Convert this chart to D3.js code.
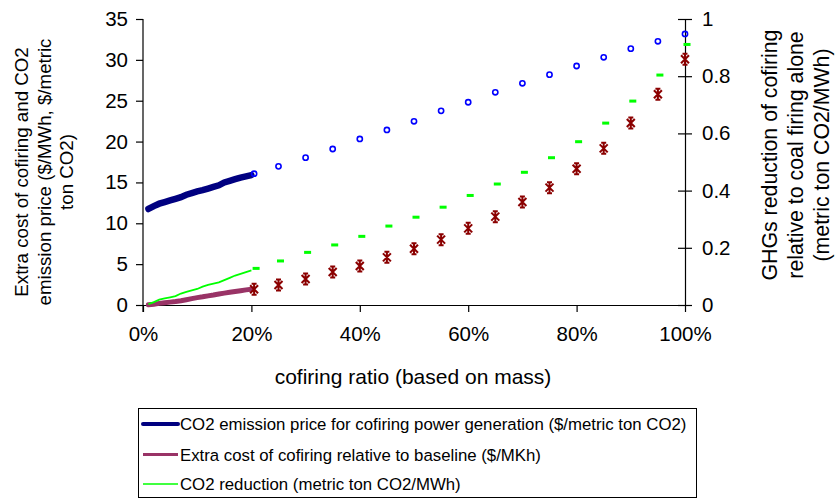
<!DOCTYPE html>
<html>
<head>
<meta charset="utf-8">
<script src="https://cdn.jsdelivr.net/npm/d3@7"></script>
<style>
  html, body { margin: 0; padding: 0; background: #fff; }
  svg { display: block; font-family: "Liberation Sans", Arial, sans-serif; }
</style>
</head>
<body>
<svg id="chart" width="835" height="500"></svg>
<script>
// Cofiring ratios for the continuous curves (1% .. 20%)
const lineRatios = [0.01,0.02,0.03,0.04,0.05,0.06,0.07,0.08,0.09,0.10,
                    0.11,0.12,0.13,0.14,0.15,0.16,0.17,0.18,0.19,0.20];
// CO2 emission price ($/metric ton CO2), left axis
const co2PriceLine = [11.75,12.1,12.4,12.6,12.8,13.0,13.2,13.5,13.7,13.9,
                      14.05,14.25,14.45,14.65,15.0,15.2,15.4,15.6,15.75,15.9];
// Extra cost of cofiring ($/MWh), left axis
const extraCostLine = [0.02,0.1,0.2,0.27,0.35,0.43,0.53,0.65,0.78,0.9,
                       1.0,1.12,1.22,1.35,1.45,1.55,1.65,1.75,1.85,1.92];
// CO2 reduction (metric ton CO2/MWh), right axis
const co2ReductionLine = [0.003,0.01,0.019,0.023,0.027,0.031,0.040,0.046,0.051,0.056,
                          0.064,0.070,0.075,0.079,0.087,0.095,0.103,0.109,0.115,0.121];

// Cofiring ratios for the point markers
const markerRatios = [0.205,0.25,0.30,0.35,0.40,0.45,0.50,0.55,0.60,0.65,
                      0.70,0.75,0.80,0.85,0.90,0.95,1.00];
const co2PricePts = [16.07,16.97,18.03,19.09,20.32,21.42,22.48,23.76,24.81,26.03,
                     27.13,28.19,29.25,30.31,31.37,32.27,33.17];
const extraCostPts = [1.92,2.45,3.18,4.04,4.77,5.83,6.89,8.0,9.38,10.81,
                      12.61,14.36,16.68,19.17,22.27,25.79,30.07];
const co2ReductionPts = [0.128,0.154,0.184,0.210,0.240,0.276,0.307,0.342,0.383,0.423,
                         0.464,0.515,0.571,0.636,0.713,0.804,0.911];

// Axis ticks
const xTicks = [0,0.2,0.4,0.6,0.8,1.0];
const leftTicks = [0,5,10,15,20,25,30,35];
const rightTicks = [0,0.2,0.4,0.6,0.8,1.0];

// Legend entries
const legendLabels = [
  "CO2 emission price for cofiring power generation ($/metric ton CO2)",
  "Extra cost of cofiring relative to baseline ($/MKh)",
  "CO2 reduction (metric ton CO2/MWh)"
];

const svg = d3.select("#chart");
const plot = { left: 143, right: 685, top: 19, bottom: 305 };

const x = d3.scaleLinear().domain([0, 1]).range([plot.left, plot.right]);
const yL = d3.scaleLinear().domain([0, 35]).range([plot.bottom, plot.top]);
const yR = d3.scaleLinear().domain([0, 1]).range([plot.bottom, plot.top]);

// ---- axes ----
const tickFont = "20.5px";

const gx = svg.append("g")
  .attr("transform", `translate(0,${plot.bottom})`)
  .call(d3.axisBottom(x).tickValues(xTicks).tickFormat(d3.format(".0%"))
        .tickSize(7).tickSizeOuter(0).tickPadding(14));

const gl = svg.append("g")
  .attr("transform", `translate(${plot.left},0)`)
  .call(d3.axisLeft(yL).tickValues(leftTicks).tickSize(7).tickSizeOuter(0).tickPadding(8));

const gr = svg.append("g")
  .attr("transform", `translate(${plot.right},0)`)
  .call(d3.axisRight(yR).tickValues(rightTicks)
        .tickFormat(d => (d === 0 || d === 1) ? String(d) : d.toFixed(1))
        .tickSize(7).tickSizeOuter(0).tickPadding(10));
// right axis ticks cross the axis line
gr.selectAll(".tick line").attr("x1", -7);

[gx, gl, gr].forEach(g => {
  g.selectAll("text").attr("font-size", tickFont).attr("fill", "#000")
    .attr("font-family", "Liberation Sans, Arial, sans-serif");
  g.selectAll("line, path").attr("stroke", "#000").attr("stroke-width", 1.2);
});
// left axis line reaches down to the bottom tick level
gl.select(".domain").attr("d", `M0,${plot.top}V${plot.bottom + 7}`);

// ---- continuous curves ----
const lineL = d3.line().x(d => x(d[0])).y(d => yL(d[1]));
const lineR = d3.line().x(d => x(d[0])).y(d => yR(d[1]));

svg.append("path")
  .datum(lineRatios.map((r, i) => [r, extraCostLine[i]]))
  .attr("d", lineL).attr("fill", "none")
  .attr("stroke", "#993366").attr("stroke-width", 5).attr("stroke-linecap", "round");

svg.append("path")
  .datum(lineRatios.map((r, i) => [r, co2ReductionLine[i]]))
  .attr("d", lineR).attr("fill", "none")
  .attr("stroke", "#00ff00").attr("stroke-width", 1.8);

svg.append("path")
  .datum(lineRatios.map((r, i) => [r, co2PriceLine[i]]))
  .attr("d", lineL).attr("fill", "none")
  .attr("stroke", "#000080").attr("stroke-width", 6.5).attr("stroke-linecap", "round");

// ---- point markers ----
// open circles: CO2 emission price
svg.append("g").selectAll("circle")
  .data(markerRatios.map((r, i) => [r, co2PricePts[i]]))
  .join("circle")
  .attr("cx", d => x(d[0])).attr("cy", d => yL(d[1]))
  .attr("r", 2.6).attr("fill", "none").attr("stroke", "#0000ff").attr("stroke-width", 1.6);

// dashes: CO2 reduction
svg.append("g").selectAll("rect")
  .data(markerRatios.map((r, i) => [r, co2ReductionPts[i]]))
  .join("rect")
  .attr("x", d => x(d[0]) - 1.5).attr("y", d => yR(d[1]) - 1.5)
  .attr("width", 7).attr("height", 3).attr("fill", "#00ff00");

// asterisks: extra cost
const star = svg.append("g").selectAll("g")
  .data(markerRatios.map((r, i) => [r, extraCostPts[i]]))
  .join("g")
  .attr("transform", d => `translate(${x(d[0])},${yL(d[1])})`);
star.append("path")
  .attr("d", "M-4,-4L4,4M-4,4L4,-4M0,-5.5V5.5M-2.5,-5.5H2.5M-2.5,5.5H2.5")
  .attr("stroke", "#8b0000").attr("stroke-width", 2).attr("fill", "none");

// ---- axis titles ----
const leftTitle = svg.append("text")
  .attr("transform", "translate(28,172) rotate(-90)")
  .attr("text-anchor", "middle").attr("font-size", "18.7px").attr("fill", "#000");
["Extra cost of cofiring and CO2", "emission price ($/MWh, $/metric", "ton CO2)"]
  .forEach((t, i) => leftTitle.append("tspan").attr("x", 0).attr("y", i * 22.5).text(t));

const rightTitle = svg.append("text")
  .attr("transform", "translate(777,155) rotate(-90)")
  .attr("text-anchor", "middle").attr("font-size", "21.3px").attr("fill", "#000");
["GHGs reduction of cofiring", "relative to coal firing alone", "(metric ton CO2/MWh)"]
  .forEach((t, i) => rightTitle.append("tspan").attr("x", 0).attr("y", i * 26).text(t));

svg.append("text")
  .attr("x", 413).attr("y", 384)
  .attr("text-anchor", "middle").attr("font-size", "21px").attr("fill", "#000")
  .text("cofiring ratio (based on mass)");

// ---- legend ----
const legend = svg.append("g");
legend.append("rect")
  .attr("x", 138.5).attr("y", 408.5).attr("width", 558).attr("height", 89)
  .attr("fill", "#fff").attr("stroke", "#000").attr("stroke-width", 1);

const legendStyles = [
  { color: "#000080", width: 4 },
  { color: "#993366", width: 3 },
  { color: "#00ff00", width: 1.6 }
];
const legendRowY = [424, 454.5, 484];
legendLabels.forEach((label, i) => {
  legend.append("line")
    .attr("x1", 143).attr("x2", 178)
    .attr("y1", legendRowY[i]).attr("y2", legendRowY[i])
    .attr("stroke", legendStyles[i].color).attr("stroke-width", legendStyles[i].width)
    .attr("stroke-linecap", i === 0 ? "round" : "butt");
  legend.append("text")
    .attr("x", 180).attr("y", legendRowY[i] + 6)
    .attr("font-size", "16.8px").attr("fill", "#000")
    .text(label);
});
</script>
</body>
</html>
